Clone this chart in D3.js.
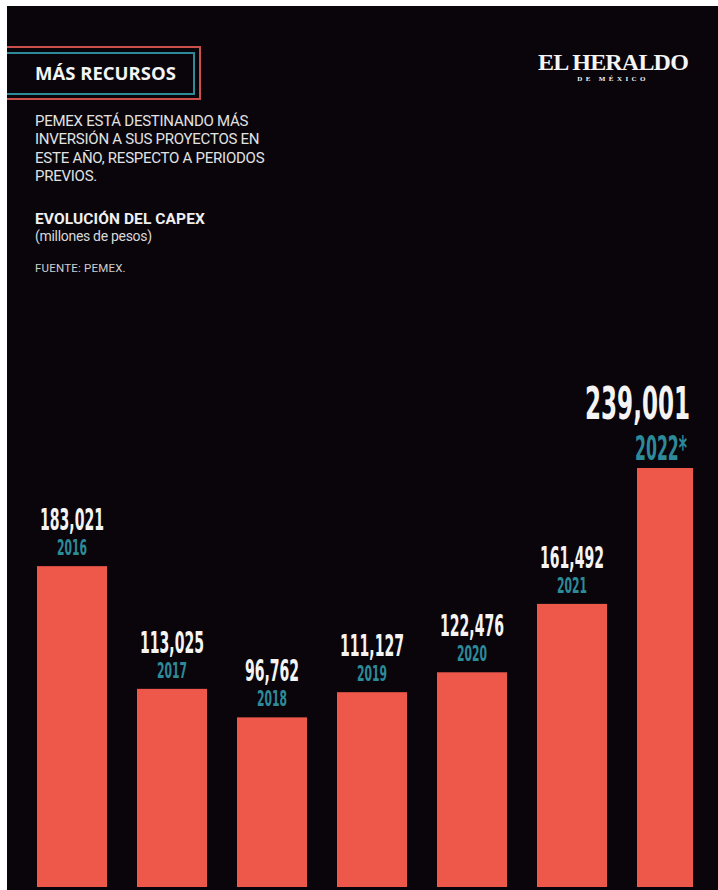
<!DOCTYPE html>
<html>
<head>
<meta charset="utf-8">
<script src="https://cdn.jsdelivr.net/npm/d3@7"></script>
<style>
  body { margin: 0; background: #fff; }
  svg { display: block; }
</style>
</head>
<body>
<div id="chart"></div>
<script>
// capex de pemex, millones de pesos
var years = ["2016", "2017", "2018", "2019", "2020", "2021", "2022*"];
var capex = [183021, 113025, 96762, 111127, 122476, 161492, 239001];

var introLines = ["PEMEX ESTÁ DESTINANDO MÁS", "INVERSIÓN A SUS PROYECTOS EN", "ESTE AÑO, RESPECTO A PERIODOS", "PREVIOS."];

var W = 718, H = 890;
var bg = "#09050b", barColor = "#ee584b", teal = "#2d8a99", red = "#c9504b";
var condensed = "'Liberation Sans Narrow','DejaVu Sans Condensed','Roboto Condensed',sans-serif";
var labelWeight = "600";
var fmt = d3.format(",");

var svg = d3.select("#chart").append("svg").attr("width", W).attr("height", H);

svg.append("rect").attr("x", 7).attr("y", 6).attr("width", W - 7).attr("height", H - 6).style("fill", bg);

// header box
svg.append("path").attr("d", "M7,47H200V99H7").style("fill", "none").style("stroke", red).style("stroke-width", 2);
svg.append("path").attr("d", "M7,53H194V94H7").style("fill", "none").style("stroke", teal).style("stroke-width", 2);
svg.append("text").text("MÁS RECURSOS").attr("x", 35).attr("y", 80)
    .style("font-family", "'Open Sans',sans-serif").style("font-weight", "bold").style("font-size", "18.5px")
    .style("fill", "#f4f4f4").style("letter-spacing", "0px");

// logo
svg.append("text").text("EL HERALDO").attr("x", 613).attr("y", 70).attr("text-anchor", "middle")
    .style("font-family", "'Liberation Serif','DejaVu Serif',serif").style("font-weight", "bold")
    .style("font-size", "24px").style("fill", "#f4f4f4").style("letter-spacing", "-0.8px");
svg.append("text").text("DE MÉXICO").attr("x", 613).attr("y", 81).attr("text-anchor", "middle")
    .style("font-family", "'Liberation Serif','DejaVu Serif',serif").style("font-weight", "bold")
    .style("font-size", "7px").style("fill", "#f4f4f4").style("letter-spacing", "3.4px");

// intro text
svg.selectAll(".intro").data(introLines).enter().append("text")
    .attr("x", 35).attr("y", function (d, i) { return 126 + i * 18.3; })
    .text(function (d) { return d; })
    .style("font-family", "Roboto,sans-serif").style("font-size", "15px")
    .style("fill", "#e2e2e2").style("letter-spacing", "-0.25px");

svg.append("text").text("EVOLUCIÓN DEL CAPEX").attr("x", 35).attr("y", 224)
    .style("font-family", "Roboto,sans-serif").style("font-weight", "bold").style("font-size", "15.5px")
    .style("fill", "#f0f0f0").style("letter-spacing", "0.1px");
svg.append("text").text("(millones de pesos)").attr("x", 35).attr("y", 241)
    .style("font-family", "Roboto,sans-serif").style("font-size", "14px")
    .style("fill", "#d8d8d8").style("letter-spacing", "-0.3px");
svg.append("text").text("FUENTE: PEMEX.").attr("x", 35).attr("y", 272)
    .style("font-family", "Roboto,sans-serif").style("font-size", "11.5px")
    .style("fill", "#cfcfcf").style("letter-spacing", "0.2px");

// scales
var x = d3.scaleBand().domain(years).range([22, 722]).paddingInner(0.3).paddingOuter(0.15);
var y = d3.scaleLinear().domain([0, d3.max(capex)]).range([887, 468]);
var last = years[years.length - 1];

function barW(d) { return d === last ? x.bandwidth() * 0.8 : x.bandwidth(); }

svg.selectAll(".bar").data(years).enter().append("rect")
    .attr("class", "bar")
    .attr("x", function (d) { return x(d); })
    .attr("y", function (d, i) { return y(capex[i]); })
    .attr("width", barW)
    .attr("height", function (d, i) { return y(0) - y(capex[i]); })
    .style("fill", barColor);

// measure a condensed string to squeeze it horizontally
function squeeze(sample, size, target) {
    var t = svg.append("text").text(sample).style("font-family", condensed)
        .style("font-weight", labelWeight).style("font-size", size + "px");
    var w = t.node().getComputedTextLength();
    t.remove();
    return target / w;
}

var sxVal = squeeze("183,021", 31, 64);
var sxYear = squeeze("2016", 21, 30);
var sxValBig = squeeze("239,001", 44, 105);
var sxYearBig = squeeze("2022*", 33, 52);

svg.selectAll(".val").data(years).enter().append("text")
    .attr("text-anchor", function (d) { return d === last ? "end" : "middle"; })
    .attr("transform", function (d, i) {
        if (d === last) return "translate(" + (x(d) + barW(d) - 3) + "," + (y(capex[i]) - 49) + ") scale(" + sxValBig + ",1)";
        return "translate(" + (x(d) + barW(d) / 2) + "," + (y(capex[i]) - 36) + ") scale(" + sxVal + ",1)";
    })
    .text(function (d, i) { return fmt(capex[i]); })
    .style("font-family", condensed).style("font-weight", labelWeight)
    .style("font-size", function (d) { return d === last ? "44px" : "31px"; })
    .style("fill", "#f4f4f4");

svg.selectAll(".yr").data(years).enter().append("text")
    .attr("text-anchor", function (d) { return d === last ? "end" : "middle"; })
    .attr("transform", function (d, i) {
        if (d === last) return "translate(" + (x(d) + barW(d) - 6) + "," + (y(capex[i]) - 8) + ") scale(" + sxYearBig + ",1)";
        return "translate(" + (x(d) + barW(d) / 2) + "," + (y(capex[i]) - 11) + ") scale(" + sxYear + ",1)";
    })
    .text(function (d) { return d; })
    .style("font-family", condensed).style("font-weight", labelWeight)
    .style("font-size", function (d) { return d === last ? "33px" : "21px"; })
    .style("fill", teal);
</script>
</body>
</html>
